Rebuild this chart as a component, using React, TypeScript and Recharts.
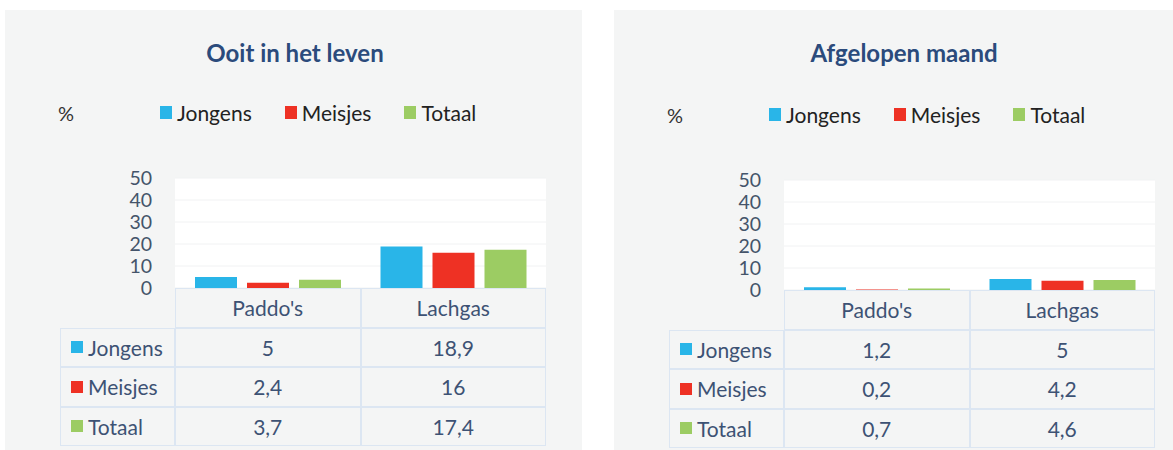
import { Bar, BarChart, CartesianGrid, XAxis, YAxis } from 'recharts';

const categories = ["Paddo's", 'Lachgas'];
const seriesNames = ['Jongens', 'Meisjes', 'Totaal'];
const seriesColors = ['#29b5e8', '#ee3124', '#9ccc63'];
const yTicks = [0, 10, 20, 30, 40, 50];

const everJongens = [5, 18.9];
const everMeisjes = [2.4, 16];
const everTotaal = [3.7, 17.4];

const monthJongens = [1.2, 5];
const monthMeisjes = [0.2, 4.2];
const monthTotaal = [0.7, 4.6];

const FONT = 'Lato, "Open Sans", sans-serif';
const TEXT = '#3d5274';
const BORDER = '#dce6f2';

const fmt = (v: number) => String(v).replace('.', ',');

function Panel({
  left,
  width,
  title,
  values,
  plotTop,
}: {
  left: number;
  width: number;
  title: string;
  values: number[][];
  plotTop: number;
}) {
  const data = categories.map((c, i) => ({
    name: c,
    Jongens: values[0][i],
    Meisjes: values[1][i],
    Totaal: values[2][i],
  }));
  const plotLeft = 170;
  const plotW = 371;
  const plotH = 110;
  const colW = plotW / 2;
  const rowH = 39.5;
  const tableTop = plotTop + plotH;
  const pad = 16;

  return (
    <div
      style={{
        position: 'absolute',
        left,
        top: 10,
        width,
        height: 440,
        background: '#f4f5f5',
        fontFamily: FONT,
      }}
    >
      <div
        style={{
          position: 'absolute',
          left: 0,
          width: 580,
          top: 28,
          textAlign: 'center',
          fontWeight: 700,
          fontSize: 24,
          color: '#2b4b7c',
        }}
      >
        {title}
      </div>
      <div style={{ position: 'absolute', left: 53, top: plotTop - 77, fontSize: 20, color: '#333' }}>
        %
      </div>
      <div
        style={{
          position: 'absolute',
          left: 155,
          top: plotTop - 78,
          display: 'flex',
          gap: 33,
          fontSize: 21,
          color: '#222',
        }}
      >
        {seriesNames.map((s, i) => (
          <div key={s} style={{ display: 'flex', alignItems: 'center' }}>
            <span style={{ width: 12, height: 13, background: seriesColors[i], marginRight: 5 }} />
            <span>{s}</span>
          </div>
        ))}
      </div>

      <div style={{ position: 'absolute', left: plotLeft - 75, top: plotTop - pad }}>
        <BarChart
          width={75 + plotW}
          height={plotH + 2 * pad}
          data={data}
          margin={{ top: pad, right: 0, bottom: pad, left: 0 }}
          barSize={42}
          barGap={10}
        >
          <CartesianGrid vertical={false} stroke="#f1f2f3" fill="#ffffff" />
          <XAxis dataKey="name" hide />
          <YAxis
            domain={[0, 50]}
            ticks={yTicks}
            width={75}
            axisLine={false}
            tickLine={false}
            tickMargin={17}
            tick={{ fill: '#44546a', fontSize: 19.5, fontFamily: FONT }}
            interval={0}
          />
          {seriesNames.map((s, i) => (
            <Bar key={s} dataKey={s} fill={seriesColors[i]} isAnimationActive={false} />
          ))}
        </BarChart>
      </div>

      {/* data table below the plot */}
      <div style={{ position: 'absolute', left: 0, top: tableTop, color: TEXT, fontSize: 21 }}>
        {categories.map((c, i) => (
          <div
            key={c}
            style={{
              position: 'absolute',
              left: plotLeft + i * colW,
              top: 0,
              width: colW,
              height: rowH,
              border: `1.5px solid ${BORDER}`,
              boxSizing: 'border-box',
              display: 'flex',
              alignItems: 'center',
              justifyContent: 'center',
            }}
          >
            {c}
          </div>
        ))}
        {seriesNames.map((s, r) => (
          <div key={s}>
            <div
              style={{
                position: 'absolute',
                left: 55,
                top: rowH + r * rowH,
                width: plotLeft - 55,
                height: rowH,
                border: `1.5px solid ${BORDER}`,
                boxSizing: 'border-box',
                display: 'flex',
                alignItems: 'center',
                paddingLeft: 10,
              }}
            >
              <span style={{ width: 12, height: 12, background: seriesColors[r], marginRight: 5 }} />
              {s}
            </div>
            {categories.map((c, i) => (
              <div
                key={c}
                style={{
                  position: 'absolute',
                  left: plotLeft + i * colW,
                  top: rowH + r * rowH,
                  width: colW,
                  height: rowH,
                  border: `1.5px solid ${BORDER}`,
                  boxSizing: 'border-box',
                  display: 'flex',
                  alignItems: 'center',
                  justifyContent: 'center',
                }}
              >
                {fmt(values[r][i])}
              </div>
            ))}
          </div>
        ))}
      </div>
    </div>
  );
}

export default function App() {
  return (
    <div style={{ position: 'absolute', left: 0, top: 0, width: 1173, height: 450, background: '#fff', overflow: 'hidden' }}>
      <Panel
        left={5}
        width={577}
        title="Ooit in het leven"
        values={[everJongens, everMeisjes, everTotaal]}
        plotTop={168}
      />
      <Panel
        left={614}
        width={559}
        title="Afgelopen maand"
        values={[monthJongens, monthMeisjes, monthTotaal]}
        plotTop={170}
      />
    </div>
  );
}
